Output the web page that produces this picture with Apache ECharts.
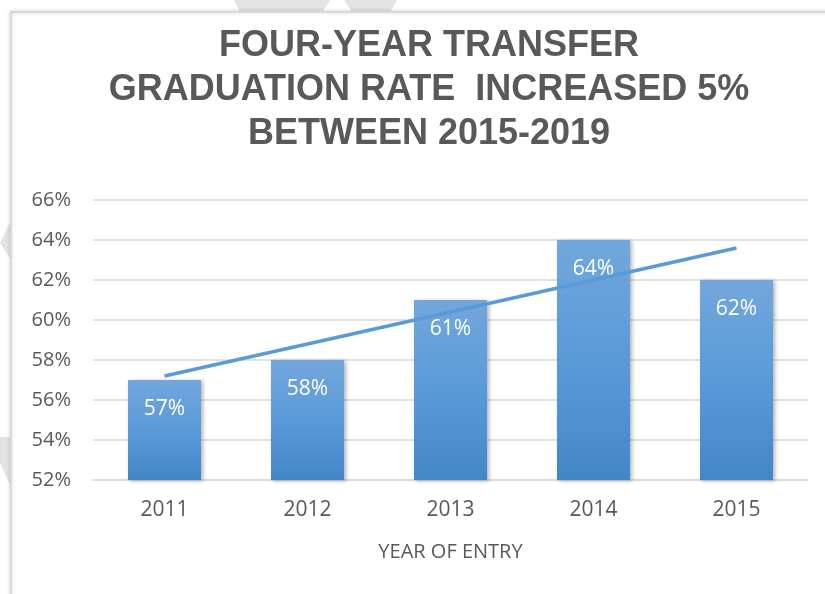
<!DOCTYPE html>
<html>
<head>
<meta charset="utf-8">
<script src="https://cdn.jsdelivr.net/npm/echarts@6/dist/echarts.min.js"></script>
<style>
  html, body { margin: 0; padding: 0; background: #fff; }
  #main { width: 825px; height: 594px; }
</style>
</head>
<body>
<div id="main"></div>
<script>
// data
var years = ['2011', '2012', '2013', '2014', '2015'];
var rates = [57, 58, 61, 64, 62];
// linear trendline, end points
var trend = [57.2, null, null, null, 63.6];
var yTicks = [52, 54, 56, 58, 60, 62, 64, 66];

var titleLines = ['FOUR-YEAR TRANSFER', 'GRADUATION RATE  INCREASED 5%', 'BETWEEN 2015-2019'];

var myChart = echarts.init(document.getElementById('main'));

var option = {
    backgroundColor: '#fff',
    animation: false,
    title: {
        text: titleLines.join('\n'),
        left: 424,
        textAlign: 'center',
        top: 19,
        textStyle: {
            fontFamily: 'Liberation Sans',
            fontWeight: 'bold',
            fontSize: 36,
            lineHeight: 44,
            color: '#595959'
        }
    },
    graphic: [
        // faint shapes behind the chart frame
        { type: 'polygon', z: -10, shape: { points: [[234, 0], [330, 0], [322, 12], [240, 12]] }, style: { fill: '#e3e3e3' } },
        { type: 'polygon', z: -10, shape: { points: [[344, 0], [397, 0], [390, 12], [352, 12]] }, style: { fill: '#e3e3e3' } },
        { type: 'polygon', z: -10, shape: { points: [[11, 220], [11, 260], [0, 243]] }, style: { fill: '#e3e3e3' } },
        { type: 'polygon', z: -10, shape: { points: [[0, 437], [11, 437], [11, 487], [0, 463]] }, style: { fill: '#e3e3e3' } },
        // chart frame
        {
            type: 'rect', z: -5,
            shape: { x: 11, y: 12, width: 830, height: 600 },
            style: { fill: '#fff', stroke: '#d9d9d9', lineWidth: 2, shadowBlur: 4, shadowColor: 'rgba(0,0,0,0.15)' }
        }
    ],
    grid: {
        left: 93,
        right: 17,
        top: 200,
        bottom: 114
    },
    xAxis: {
        type: 'category',
        data: years,
        name: 'YEAR OF ENTRY',
        nameLocation: 'middle',
        nameGap: 62,
        nameTextStyle: { fontFamily: 'Open Sans', fontSize: 20, color: '#595959' },
        axisLine: { lineStyle: { color: '#d9d9d9', width: 1.5 } },
        axisTick: { show: false },
        axisLabel: { margin: 20, fontFamily: 'Open Sans', fontSize: 21, color: '#595959' }
    },
    yAxis: {
        type: 'value',
        min: yTicks[0],
        max: yTicks[yTicks.length - 1],
        interval: 2,
        axisLine: { show: false },
        axisTick: { show: false },
        splitLine: { lineStyle: { color: '#d9d9d9', width: 1.5 } },
        axisLabel: {
            margin: 22,
            fontFamily: 'Open Sans',
            fontSize: 20,
            color: '#595959',
            formatter: function (v) { return v + '%'; }
        }
    },
    series: [{
        name: 'Rate',
        type: 'bar',
        data: rates,
        barWidth: 73,
        itemStyle: {
            color: new echarts.graphic.LinearGradient(0, 0, 0, 1, [
                { offset: 0, color: '#72a7dc' },
                { offset: 0.5, color: '#5a9ad9' },
                { offset: 1, color: '#4386c8' }
            ]),
            shadowBlur: 4,
            shadowOffsetX: 2,
            shadowOffsetY: 1,
            shadowColor: 'rgba(0,0,0,0.3)'
        },
        label: {
            show: true,
            position: 'insideTop',
            distance: 19,
            fontFamily: 'Open Sans',
            fontSize: 21,
            color: '#fff',
            formatter: function (p) { return p.value + '%'; }
        }
    }, {
        name: 'Trend',
        type: 'line',
        data: trend,
        connectNulls: true,
        symbol: 'none',
        z: 5,
        lineStyle: { color: '#5b9bd5', width: 3.5 }
    }]
};

myChart.setOption(option);
</script>
</body>
</html>
